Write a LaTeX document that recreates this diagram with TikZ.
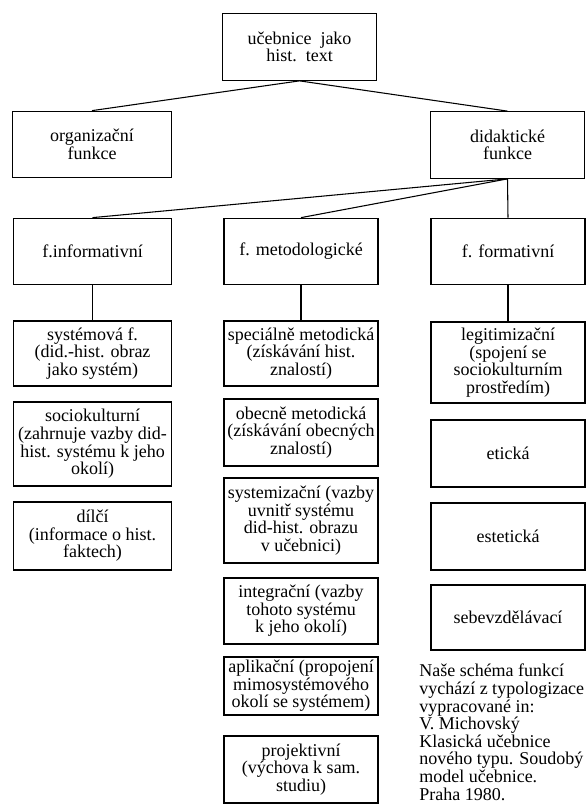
\documentclass[tikz,border=0pt]{standalone}
\usepackage{fontspec}
\setmainfont{Liberation Serif}
\usepackage{tikz}
\usetikzlibrary{calc,positioning}

\tikzset{
  funkce/.style={draw=black, line width=0.8pt, align=center, inner sep=1pt,
                 minimum width=115.5pt, minimum height=50pt},
  levy/.style={minimum width=119pt},
  spoj/.style={draw=black, line width=0.8pt},
}

\begin{document}
\begin{tikzpicture}[x=0.75pt, y=-0.75pt, font=\fontsize{13.5}{13.2}\selectfont]
  \useasboundingbox (0,0) rectangle (586,809);

  % top levels
  \node[funkce] (ucebnice) at (299.5,47) {u\v{c}ebnice\ \ jako\\hist.\ \ text};
  \node[funkce, levy] (org) at (92,144.5) {organiza\v{c}n\'{\i}\\funkce};
  \node[funkce] (did) at (507.5,145) {didaktick\'e\\funkce};

  \node[funkce, levy] (inf) at (92.5,251.5) {f.informativn\'{\i}};
  \node[funkce] (met) at (301,251.5) {f. metodologick\'e};
  \node[funkce] (form) at (508,251.5) {f. formativn\'{\i}};

  % f. informativni
  \node[funkce, levy, minimum height=48.75pt] (sys) at (92.5,353.5) {syst\'emov\'a f.\\(did.-hist. obraz\\jako syst\'em)};
  \node[funkce, levy, minimum height=63pt] (soc) at (92.5,444) {sociokulturn\'{\i}\\(zahrnuje vazby did-\\hist. syst\'emu k jeho\\okol\'{\i})};
  \node[funkce, levy, minimum height=51pt] (dil) at (92.5,536) {d\'{\i}l\v{c}\'{\i}\\(informace o hist.\\faktech)};

  % f. metodologicke
  \node[funkce, minimum height=48.75pt] (spec) at (301,353.5) {speci\'aln\v{e} metodick\'a\\(z\'{\i}sk\'av\'an\'{\i} hist.\\znalost\'{\i})};
  \node[funkce, minimum height=50.25pt] (obec) at (301,432.5) {obecn\v{e} metodick\'a\\(z\'{\i}sk\'av\'an\'{\i} obecn\'ych\\znalost\'{\i})};
  \node[funkce, minimum height=63.75pt] (sysz) at (301,520.5) {systemiza\v{c}n\'{\i} (vazby\\uvnit\v{r} syst\'emu\\did-hist. obrazu\\v u\v{c}ebnici)};
  \node[funkce, minimum height=49.5pt] (integ) at (301,611) {integra\v{c}n\'{\i} (vazby\\tohoto syst\'emu\\k jeho okol\'{\i})};
  \node[funkce, minimum height=43.5pt] (aplik) at (301,686) {aplika\v{c}n\'{\i} (propojen\'{\i}\\mimosyst\'emov\'eho\\okol\'{\i} se syst\'emem)};
  \node[funkce, minimum height=50.25pt] (proj) at (301,769.5) {projektivn\'{\i}\\(v\'ychova k sam.\\studiu)};

  % f. formativni
  \node[funkce, minimum height=60.75pt] (legit) at (508,362.5) {legitimiza\v{c}n\'{\i}\\(spojen\'{\i} se\\sociokulturn\'{\i}m\\prost\v{r}ed\'{\i}m)};
  \node[funkce, minimum height=50.25pt] (etic) at (508,453.5) {etick\'a};
  \node[funkce, minimum height=50.25pt] (estet) at (508,536.5) {estetick\'a};
  \node[funkce, minimum height=48.75pt] (sebe) at (508,617.5) {sebevzd\v{e}l\'avac\'{\i}};

  % note
  \node[anchor=north west, align=left, inner sep=0pt] (pozn) at (419,664) {Na\v{s}e sch\'ema funkc\'{\i}\\vych\'az\'{\i} z typologizace\\vypracovan\'e in:\\V. Michovsk\'y\\Klasick\'a u\v{c}ebnice\\nov\'eho typu. Soudob\'y\\model u\v{c}ebnice.\\Praha 1980.};

  % connections
  \draw[spoj] (ucebnice.south) -- (org.north);
  \draw[spoj] (ucebnice.south) -- (did.north);
  \draw[spoj] (did.south) -- (inf.north);
  \draw[spoj] (did.south) -- (met.north);
  \draw[spoj] (did.south) -- (form.north);
  \draw[spoj] (inf.south) -- (sys.north);
  \draw[spoj] (met.south) -- (spec.north);
  \draw[spoj] (form.south) -- (legit.north);
\end{tikzpicture}
\end{document}
